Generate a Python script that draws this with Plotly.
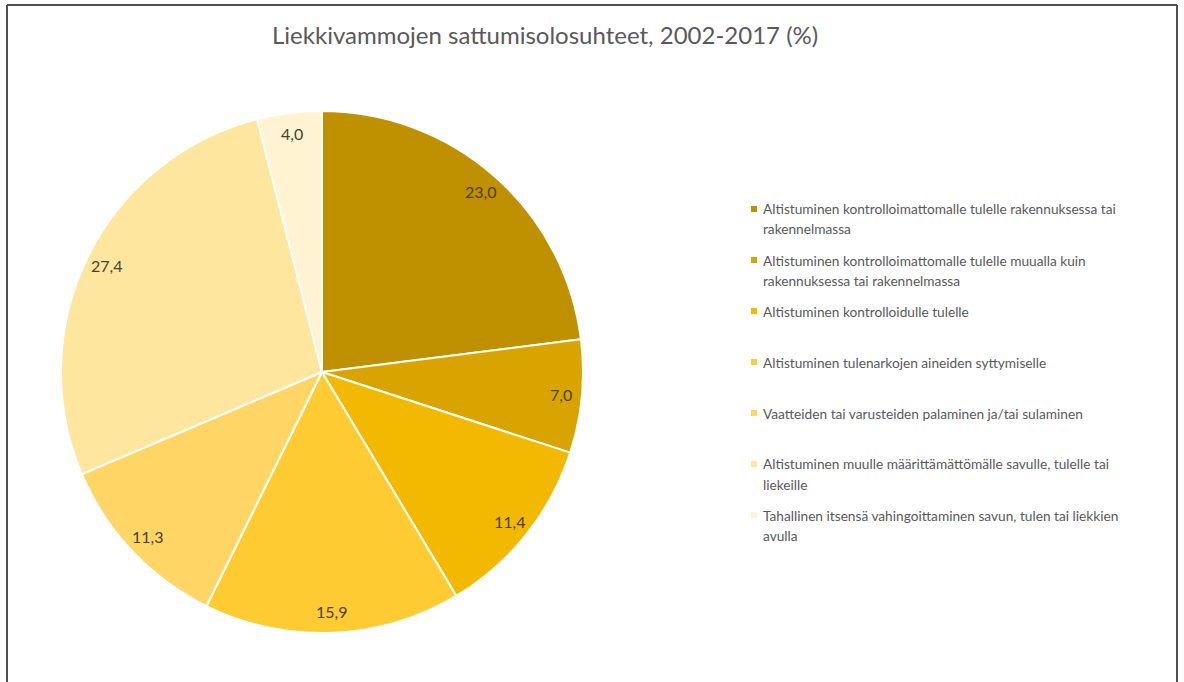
import math
import plotly.graph_objects as go

# ---- data ----
categories = [
    "Altistuminen kontrolloimattomalle tulelle rakennuksessa tai<br>rakennelmassa",
    "Altistuminen kontrolloimattomalle tulelle muualla kuin<br>rakennuksessa tai rakennelmassa",
    "Altistuminen kontrolloidulle tulelle",
    "Altistuminen tulenarkojen aineiden syttymiselle",
    "Vaatteiden tai varusteiden palaminen ja/tai sulaminen",
    "Altistuminen muulle määrittämättömälle savulle, tulelle tai<br>liekeille",
    "Tahallinen itsensä vahingoittaminen savun, tulen tai liekkien<br>avulla",
]
values = [23.0, 7.0, 11.4, 15.9, 11.3, 27.4, 4.0]
value_labels = ["23,0", "7,0", "11,4", "15,9", "11,3", "27,4", "4,0"]
colors = ["#BF9000", "#D9A400", "#F2B900", "#FFCB33", "#FFD666", "#FFE69E", "#FFF3D2"]
title_text = "Liekkivammojen sattumisolosuhteet, 2002-2017 (%)"

W, H = 1184, 682
FONT = "Lato"

# pie geometry (pixels)
cx, cy, R = 322, 372, 261

fig = go.Figure()
fig.add_trace(go.Pie(
    values=values,
    labels=[c.replace("<br>", " ") for c in categories],
    sort=False,
    direction="clockwise",
    rotation=0,
    marker=dict(colors=colors, line=dict(color="white", width=2)),
    textinfo="none",
    hoverinfo="label+value",
    showlegend=False,
    domain=dict(x=[(cx - R) / W, (cx + R) / W], y=[1 - (cy + R) / H, 1 - (cy - R) / H]),
))

annotations = []
# data labels near outer edge
total = sum(values)
cum = 0.0
for v, lab in zip(values, value_labels):
    mid = (cum + v / 2) / total * 2 * math.pi
    cum += v
    r = 0.92 * R
    px = cx + r * math.sin(mid)
    py = cy - r * math.cos(mid)
    annotations.append(dict(
        x=px / W, y=1 - py / H, xref="paper", yref="paper",
        text=lab, showarrow=False, xanchor="center", yanchor="middle",
        font=dict(family=FONT, size=16, color="#4a4030"),
    ))

# title
annotations.append(dict(
    x=545 / W, y=1 - 35 / H, xref="paper", yref="paper",
    text=title_text, showarrow=False, xanchor="center", yanchor="middle",
    font=dict(family=FONT, size=24, color="#595959"),
))

# custom legend
shapes = []
leg_y0, leg_dy, line_dy = 209, 51, 20
mk_x, txt_x, mk = 754, 761, 6
for i, (cat, col) in enumerate(zip(categories, colors)):
    yc = leg_y0 + i * leg_dy
    shapes.append(dict(
        type="rect", xref="paper", yref="paper",
        x0=(mk_x - mk / 2) / W, x1=(mk_x + mk / 2) / W,
        y0=1 - (yc + mk / 2) / H, y1=1 - (yc - mk / 2) / H,
        fillcolor=col, line=dict(width=0),
    ))
    for k, line in enumerate(cat.split("<br>")):
        annotations.append(dict(
            x=txt_x / W, y=1 - (yc + k * line_dy) / H, xref="paper", yref="paper",
            text=line, showarrow=False, xanchor="left", yanchor="middle",
            font=dict(family=FONT, size=13.7, color="#595959"),
        ))

# frame (top, left, right)
border = "#505050"
shapes.append(dict(type="line", xref="paper", yref="paper",
                   x0=7 / W, x1=1177 / W, y0=1 - 5 / H, y1=1 - 5 / H,
                   line=dict(color=border, width=2)))
shapes.append(dict(type="line", xref="paper", yref="paper",
                   x0=7 / W, x1=7 / W, y0=1 - 5 / H, y1=-0.05,
                   line=dict(color=border, width=2)))
shapes.append(dict(type="line", xref="paper", yref="paper",
                   x0=1177 / W, x1=1177 / W, y0=1 - 5 / H, y1=-0.05,
                   line=dict(color=border, width=2)))

fig.update_layout(
    width=W, height=H,
    margin=dict(l=0, r=0, t=0, b=0),
    paper_bgcolor="white", plot_bgcolor="white",
    annotations=annotations, shapes=shapes,
    font=dict(family=FONT),
)

fig.write_html(
    "out.html",
    config={"displayModeBar": False},
    post_script="document.body.style.margin='0';document.body.style.overflow='hidden';",
)
